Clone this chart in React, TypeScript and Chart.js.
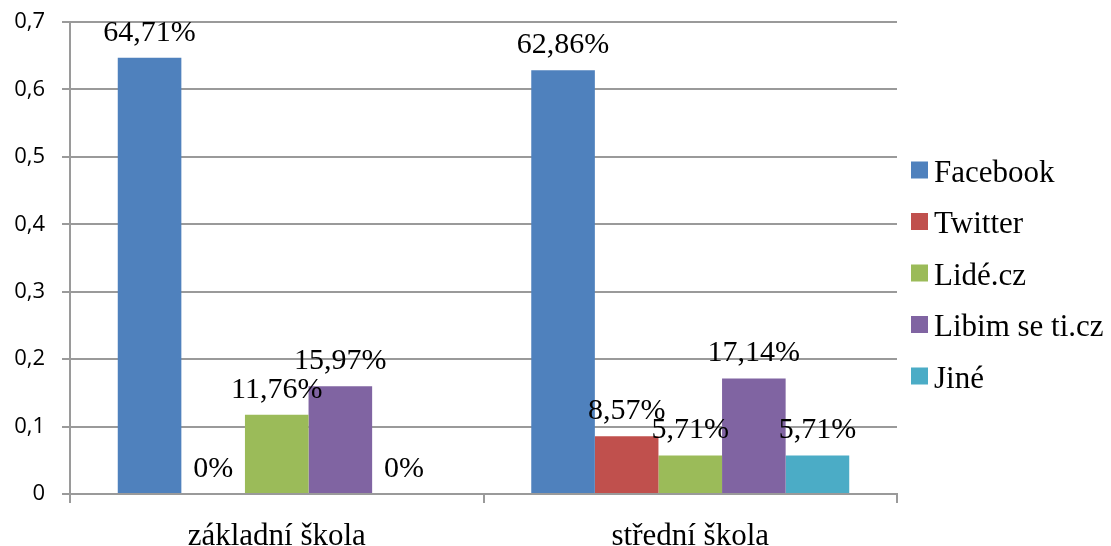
import React, { useEffect, useRef } from 'react';
import { Chart, registerables } from 'chart.js';

Chart.register(...registerables);

const categories = ['základní škola', 'střední škola'];
const seriesNames = ['Facebook', 'Twitter', 'Lidé.cz', 'Libim se ti.cz', 'Jiné'];
const facebook = [0.6471, 0.6286];
const twitter = [0, 0.0857];
const lide = [0.1176, 0.0571];
const libim = [0.1597, 0.1714];
const jine = [0, 0.0571];
const seriesColors = ['#4F81BD', '#C0504D', '#9BBB59', '#8064A2', '#4BACC6'];
const yTickLabels = ['0', '0,1', '0,2', '0,3', '0,4', '0,5', '0,6', '0,7'];

const SERIF = "'Liberation Serif', 'Times New Roman', serif";
const GRID = '#9a9a9a';

function pctLabel(v: number): string {
  if (v === 0) return '0%';
  return (v * 100).toFixed(2).replace('.', ',') + '%';
}

const dataLabelPlugin = {
  id: 'dataLabels',
  afterDatasetsDraw(chart: any) {
    const ctx = chart.ctx;
    ctx.save();
    ctx.font = `30px ${SERIF}`;
    ctx.fillStyle = '#000';
    ctx.textAlign = 'center';
    ctx.textBaseline = 'alphabetic';
    chart.data.datasets.forEach((ds: any, di: number) => {
      const meta = chart.getDatasetMeta(di);
      meta.data.forEach((bar: any, i: number) => {
        const v = ds.data[i] as number;
        ctx.fillText(pctLabel(v), bar.x, bar.y - 17);
      });
    });
    ctx.restore();
  },
};

const legendPlugin = {
  id: 'sideLegend',
  afterDraw(chart: any) {
    const ctx = chart.ctx;
    const area = chart.chartArea;
    ctx.save();
    ctx.font = `31px ${SERIF}`;
    ctx.textAlign = 'left';
    ctx.textBaseline = 'alphabetic';
    const n = chart.data.datasets.length;
    const spacing = 51.5;
    const midY = chart.height / 2;
    const boxX = area.right + 14;
    chart.data.datasets.forEach((ds: any, i: number) => {
      const cy = midY + (i - (n - 1) / 2) * spacing;
      ctx.fillStyle = ds.backgroundColor;
      ctx.fillRect(boxX, cy - 8.5, 17, 17);
      ctx.fillStyle = '#000';
      ctx.fillText(ds.label, boxX + 23, cy + 11.5);
    });
    ctx.restore();
  },
};

export default function App() {
  const canvasRef = useRef<HTMLCanvasElement | null>(null);

  useEffect(() => {
    if (!canvasRef.current) return;
    const seriesData = [facebook, twitter, lide, libim, jine];
    const chart = new Chart(canvasRef.current, {
      type: 'bar',
      data: {
        labels: categories,
        datasets: seriesNames.map((name, i) => ({
          label: name,
          data: seriesData[i],
          backgroundColor: seriesColors[i],
          borderWidth: 0,
          categoryPercentage: 0.769,
          barPercentage: 1.0,
        })),
      },
      options: {
        responsive: false,
        animation: false,
        layout: { padding: { top: 22, right: 214, bottom: 0, left: 0 } },
        plugins: {
          legend: { display: false },
          tooltip: { enabled: false },
          title: { display: false },
        },
        scales: {
          x: {
            offset: true,
            grid: {
              offset: true,
              drawOnChartArea: false,
              drawTicks: true,
              tickLength: 9,
              color: GRID,
              lineWidth: 2,
            },
            border: { display: true, color: GRID, width: 2 },
            ticks: {
              color: '#000',
              padding: 15,
              font: { family: SERIF, size: 31 },
              maxRotation: 0,
            },
            afterFit: (scale: any) => {
              scale.height = 52;
              scale.paddingLeft = 0;
              scale.paddingRight = 0;
            },
          },
          y: {
            min: 0,
            max: 0.7,
            grid: {
              color: GRID,
              lineWidth: 2,
              drawTicks: true,
              tickLength: 8,
            },
            border: { display: true, color: GRID, width: 2 },
            ticks: {
              stepSize: 0.1,
              color: '#000',
              padding: 17,
              font: { family: "'Open Sans', sans-serif", size: 22 },
              callback: (_v: any, index: number) => yTickLabels[index],
            },
            afterFit: (scale: any) => {
              scale.width = 70;
              scale.paddingTop = 0;
              scale.paddingBottom = 0;
            },
          },
        },
      },
      plugins: [dataLabelPlugin, legendPlugin],
    });
    return () => chart.destroy();
  }, []);

  return (
    <div style={{ position: 'fixed', left: 0, top: 0, width: 1111, height: 546, background: '#fff' }}>
      <canvas ref={canvasRef} width={1111} height={546} style={{ display: 'block' }} />
    </div>
  );
}
